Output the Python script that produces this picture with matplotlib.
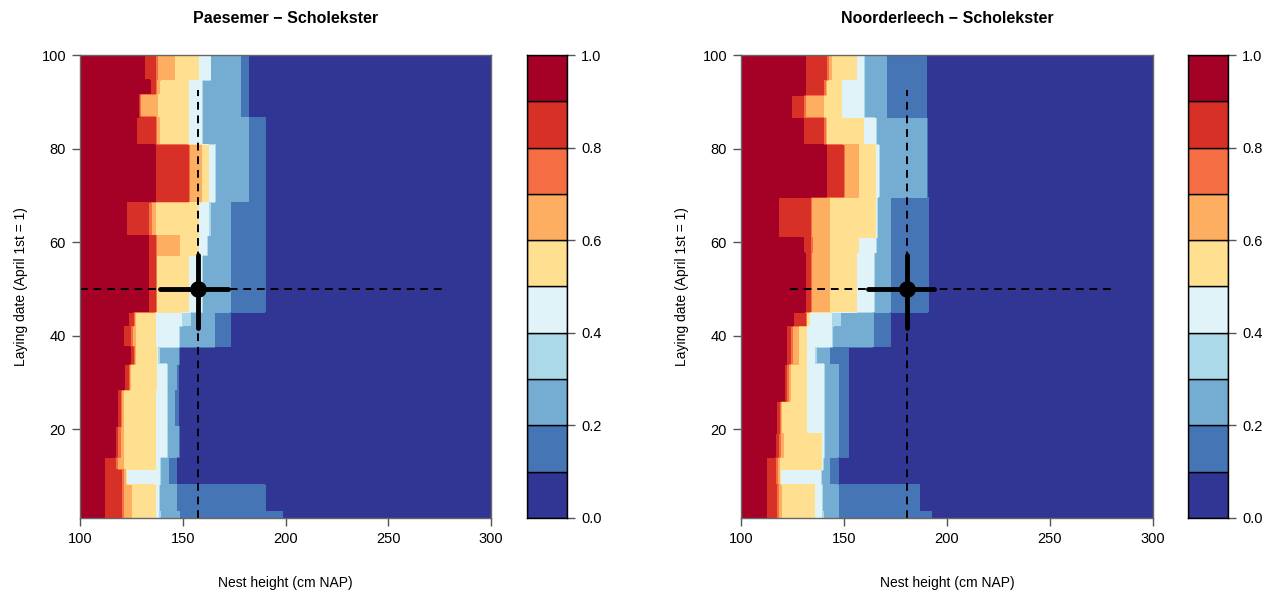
import numpy as np
import matplotlib.pyplot as plt

plt.rcParams['font.family'] = ['Liberation Sans', 'DejaVu Sans']

levels = np.round(np.arange(0, 1.01, 0.1), 1)
level_colors = ['#313695', '#4575B4', '#74ADD1', '#ABD9E9', '#E0F3F8',
                '#FEE090', '#FDAE61', '#F46D43', '#D73027', '#A50026']

# laying date bands; for each band the nest height (cm NAP) where the
# probability drops below 0.9, 0.8, ..., 0.1
paes_dates = [1, 2.3, 8, 11.2, 14.1, 20.5, 28.3, 34, 37.6, 42, 45, 57.2, 61.5,
              68.5, 80.7, 86.8, 91.8, 94.7, 100]
paes_bounds = [
    [112.2, 120.3, 121.0, 125.1, 136.5, 138.1, 139.0, 148.5, 198.5],
    [112.2, 120.3, 121.0, 125.1, 136.5, 138.1, 138.5, 147.0, 190.0],
    [112.2, 120.3, 121.0, 122.0, 122.5, 138.9, 139.3, 143.0, 147.0],
    [112.2, 117.0, 118.0, 121.1, 136.5, 138.9, 139.3, 143.0, 147.0],
    [117.0, 118.3, 119.5, 121.1, 136.5, 142.2, 142.7, 147.8, 148.3],
    [118.2, 119.5, 120.3, 121.1, 136.5, 142.2, 142.7, 146.2, 147.9],
    [121.9, 123.5, 124.0, 124.3, 137.3, 142.2, 142.7, 147.0, 147.9],
    [124.3, 125.9, 126.5, 126.8, 137.3, 137.5, 138.5, 148.0, 148.7],
    [121.1, 124.3, 125.5, 126.8, 136.5, 147.9, 148.7, 165.7, 173.0],
    [123.5, 125.9, 126.5, 126.8, 136.5, 149.5, 153.5, 165.7, 173.0],
    [133.2, 136.5, 137.0, 137.3, 152.7, 159.2, 159.6, 173.0, 190.0],
    [133.2, 136.5, 137.0, 148.7, 157.9, 161.7, 162.0, 173.0, 190.0],
    [122.7, 133.2, 134.5, 136.5, 157.9, 162.5, 163.3, 173.0, 190.0],
    [136.5, 152.7, 153.2, 159.2, 162.5, 165.7, 166.2, 181.9, 190.0],
    [127.6, 136.5, 137.0, 138.5, 152.7, 159.2, 159.6, 181.9, 190.0],
    [128.4, 129.0, 129.5, 137.5, 152.7, 159.2, 159.6, 177.9, 181.9],
    [134.0, 136.5, 137.0, 138.9, 152.7, 159.2, 159.6, 177.9, 181.9],
    [131.6, 136.5, 137.5, 146.2, 157.9, 163.3, 163.6, 177.9, 181.9],
]

noord_dates = [1, 2.3, 8, 11.2, 14.1, 19, 26, 34, 37.6, 42, 45, 57.6, 61,
               69.5, 80.7, 86.5, 91.5, 94.7, 100]
noord_bounds = [
    [112.5, 117.3, 118.0, 119.7, 135.9, 139.2, 140.0, 147.2, 192.6],
    [112.5, 117.3, 118.0, 119.7, 135.9, 139.2, 139.7, 147.2, 186.9],
    [112.5, 116.5, 117.5, 118.9, 119.3, 138.3, 138.8, 143.2, 147.2],
    [112.5, 116.5, 117.5, 118.9, 139.2, 139.5, 140.0, 143.2, 147.2],
    [116.5, 118.1, 119.0, 120.5, 139.2, 140.0, 140.5, 147.2, 152.1],
    [117.3, 118.9, 119.3, 119.7, 131.9, 140.0, 140.5, 147.2, 152.1],
    [121.4, 122.2, 123.0, 123.8, 131.9, 140.0, 140.5, 147.2, 152.1],
    [122.2, 123.8, 125.0, 127.8, 131.9, 135.9, 136.5, 143.2, 152.1],
    [122.2, 123.8, 125.0, 127.8, 131.9, 144.0, 144.5, 164.2, 172.3],
    [125.4, 131.1, 131.5, 131.9, 133.0, 144.0, 148.0, 164.2, 172.3],
    [131.0, 133.5, 134.0, 143.2, 156.2, 164.2, 164.7, 172.3, 190.8],
    [130.3, 133.5, 134.5, 143.2, 157.0, 165.0, 165.5, 172.3, 190.8],
    [118.1, 133.5, 134.3, 143.2, 165.0, 165.5, 166.0, 172.3, 190.8],
    [141.6, 149.7, 150.2, 157.0, 165.0, 166.5, 167.0, 190.1, 190.4],
    [130.3, 140.0, 141.2, 141.6, 159.4, 165.0, 165.5, 190.1, 190.4],
    [124.6, 130.3, 131.1, 140.0, 148.9, 159.4, 159.8, 170.7, 190.1],
    [131.1, 140.0, 140.8, 141.6, 148.9, 159.4, 159.8, 170.7, 190.1],
    [131.1, 141.6, 142.5, 144.0, 156.1, 159.4, 159.8, 170.7, 190.1],
]

# mean nest (height, date) with ranges
paes_mean = (157.4, 50)
paes_h_sd = (139, 172)
paes_d_sd = (41.6, 57.2)
paes_h_range = (100, 276.6)
paes_d_range = (1, 92.5)

noord_mean = (180.6, 50)
noord_h_sd = (161.7, 193.7)
noord_d_sd = (41.6, 57.2)
noord_h_range = (123.8, 280.6)
noord_d_range = (1, 92.5)

titles = ['Paesemer \u2212 Scholekster', 'Noorderleech \u2212 Scholekster']


def make_grid(dates, bounds):
    xs = np.linspace(100, 300, 801)
    ys = np.linspace(1, 100, 400)
    z = np.zeros((len(ys), len(xs)))
    for i, y in enumerate(ys):
        k = min(np.searchsorted(dates, y, side='right') - 1, len(bounds) - 1)
        b = np.array(bounds[k])
        z[i] = 0.95 - 0.1 * (xs[:, None] > b[None, :]).sum(axis=1)
    return xs, ys, z


def style_axis(ax):
    for s in ax.spines.values():
        s.set_color('#666666')
        s.set_linewidth(1)
    ax.tick_params(direction='out', length=6, width=1, color='#555555',
                   labelsize=10.5, pad=4)


def draw_panel(ax, cax, dates, bounds, mean, h_sd, d_sd, h_range, d_range, title):
    xs, ys, z = make_grid(dates, bounds)
    ax.contourf(xs, ys, z, levels=levels, colors=level_colors)
    ax.set_xlim(100, 300)
    ax.set_ylim(1, 100)
    ax.set_xticks([100, 150, 200, 250, 300])
    ax.set_yticks([20, 40, 60, 80, 100])
    style_axis(ax)
    ax.set_xlabel('Nest height (cm NAP)', fontsize=10, labelpad=22)
    ax.set_ylabel('Laying date (April 1st = 1)', fontsize=10, labelpad=10)
    ax.set_title(title, fontsize=11.5, fontweight='bold', pad=23)

    ax.plot(h_range, [mean[1], mean[1]], color='black', lw=1.4, ls=(0, (4, 3)))
    ax.plot([mean[0], mean[0]], d_range, color='black', lw=1.4, ls=(0, (4, 3)))
    ax.plot(h_sd, [mean[1], mean[1]], color='black', lw=3.5, solid_capstyle='round')
    ax.plot([mean[0], mean[0]], d_sd, color='black', lw=3.5, solid_capstyle='round')
    ax.plot(mean[0], mean[1], 'o', color='black', ms=11)

    cax.bar(0.5, np.diff(levels), bottom=levels[:-1], width=1,
            color=level_colors, edgecolor='black', linewidth=1)
    cax.set_xlim(0, 1)
    cax.set_ylim(0, 1)
    cax.set_xticks([])
    cax.yaxis.tick_right()
    cax.set_yticks(levels[::2])
    cax.set_yticklabels(['%.1f' % v for v in levels[::2]])
    style_axis(cax)
    for s in cax.spines.values():
        s.set_color('black')


fig = plt.figure(figsize=(12.74, 5.96), dpi=100)
ax1 = fig.add_axes([0.0628, 0.1309, 0.3226, 0.7768])
cax1 = fig.add_axes([0.4137, 0.1309, 0.0314, 0.7768])
ax2 = fig.add_axes([0.5816, 0.1309, 0.3234, 0.7768])
cax2 = fig.add_axes([0.9325, 0.1309, 0.0314, 0.7768])

draw_panel(ax1, cax1, paes_dates, paes_bounds, paes_mean, paes_h_sd, paes_d_sd,
           paes_h_range, paes_d_range, titles[0])
draw_panel(ax2, cax2, noord_dates, noord_bounds, noord_mean, noord_h_sd, noord_d_sd,
           noord_h_range, noord_d_range, titles[1])

fig.savefig('out.png', dpi=100)
